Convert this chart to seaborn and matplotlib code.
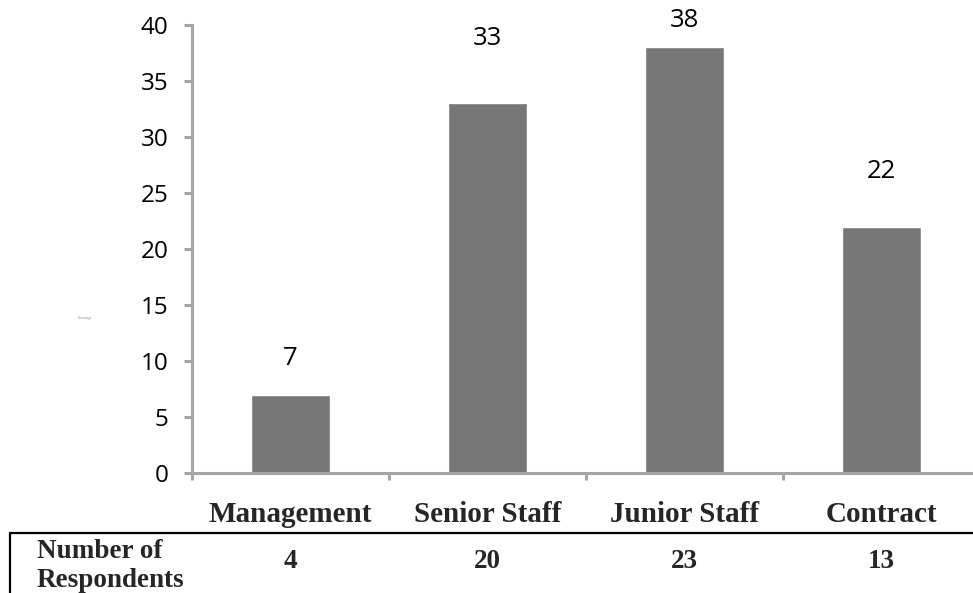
import matplotlib
matplotlib.use("Agg")
import matplotlib.pyplot as plt
import seaborn as sns
import pandas as pd
from matplotlib.lines import Line2D

categories = ["Management", "Senior Staff", "Junior Staff", "Contract"]
percentages = [7, 33, 38, 22]
respondents = [4, 20, 23, 13]
label_offsets = [2.64, 5.21, 1.82, 4.34]
yticks = [0, 5, 10, 15, 20, 25, 30, 35, 40]

sns.set_style("white")
plt.rcParams["font.family"] = ["Open Sans", "DejaVu Sans"]

df = pd.DataFrame({"cat": categories, "val": percentages})

fig = plt.figure(figsize=(9.73, 5.93), dpi=100)
ax = fig.add_axes([192/973, 120/593, 788/973, 448/593])
sns.barplot(data=df, x="cat", y="val", color="#777777", saturation=1, width=0.4, ax=ax)

ax.set_xlim(-0.5, 3.5)
ax.set_ylim(0, 40)
ax.set_yticks(yticks)
ax.set_yticklabels([str(t) for t in yticks], fontsize=17.5, color="black")
ax.set_xlabel("")
ax.set_ylabel("")

for s in ["top", "right"]:
    ax.spines[s].set_visible(False)
for s in ["left", "bottom"]:
    ax.spines[s].set_color("#a6a6a6")
    ax.spines[s].set_linewidth(2.2)

ax.tick_params(axis="y", direction="out", length=6, width=2.2, color="#a6a6a6", pad=11, left=True)
ax.set_xticks(range(len(categories)))
ax.set_xticklabels([])
ax.tick_params(axis="x", which="major", length=0)
ax.set_xticks([-0.5, 0.5, 1.5, 2.5, 3.5], minor=True)
ax.tick_params(axis="x", which="minor", direction="out", length=5, width=2.2, color="#a6a6a6", bottom=True)

serif = ["Liberation Serif", "DejaVu Serif"]
xt = ax.get_xaxis_transform()
for i, c in enumerate(categories):
    ax.text(i, (473-522)/448, c, transform=xt, ha="center", va="baseline",
            fontsize=21, fontweight="bold", family=serif, clip_on=False)

for i, (v, off) in enumerate(zip(percentages, label_offsets)):
    ax.text(i, v + off, str(v), ha="center", va="baseline", fontsize=18.5, color="black")

# Data table row
for i, n in enumerate(respondents):
    ax.text(i, (473-568)/448, str(n), transform=xt, ha="center", va="baseline",
            fontsize=19.5, fontweight="bold", family=serif, clip_on=False)

fig.text(37/973, (593-558)/593, "Number of", ha="left", va="baseline",
         fontsize=19.5, fontweight="bold", family=serif)
fig.text(37/973, (593-587)/593, "Respondents", ha="left", va="baseline",
         fontsize=19.5, fontweight="bold", family=serif)

fig.add_artist(Line2D([10/973, 1.0], [60/593, 60/593], color="black", linewidth=1.6, transform=fig.transFigure))
fig.add_artist(Line2D([10/973, 10/973], [0, 60/593], color="black", linewidth=1.6, transform=fig.transFigure))

fig.text(85/973, (593-318)/593, "Percentage", fontsize=2, color="#888888", ha="center", va="center")

fig.savefig("out.png", dpi=100)
